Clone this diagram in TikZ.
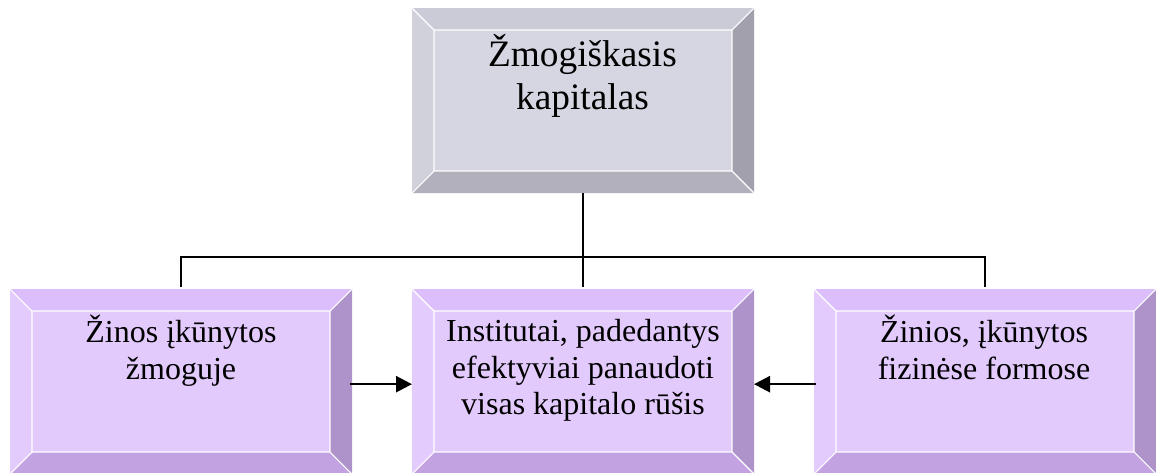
\documentclass[tikz,border=0pt]{standalone}
\usepackage{fontspec}
\setmainfont{Liberation Serif}
\usetikzlibrary{arrows.meta}
\definecolor{gTop}{HTML}{CBCBD7}
\definecolor{gLeft}{HTML}{D1D1DC}
\definecolor{gRight}{HTML}{A1A0AC}
\definecolor{gBot}{HTML}{B1B0BC}
\definecolor{gMid}{HTML}{D6D6E2}
\definecolor{pTop}{HTML}{DCBEFC}
\definecolor{pLeft}{HTML}{E3CCFD}
\definecolor{pRight}{HTML}{AD93CA}
\definecolor{pBot}{HTML}{C3A2E2}
\definecolor{pMid}{HTML}{E2CAFD}
\newcommand\bevelbox[6]{%
  \path (#1.north west) ++(22,22) coordinate (#1-inw);
  \path (#1.north east) ++(-22,22) coordinate (#1-ine);
  \path (#1.south east) ++(-22,-22) coordinate (#1-ise);
  \path (#1.south west) ++(22,-22) coordinate (#1-isw);
  \fill[#2] (#1.north west) -- (#1.north east) -- (#1-ine) -- (#1-inw) -- cycle;
  \fill[#3] (#1.north west) -- (#1-inw) -- (#1-isw) -- (#1.south west) -- cycle;
  \fill[#4] (#1.north east) -- (#1.south east) -- (#1-ise) -- (#1-ine) -- cycle;
  \fill[#5] (#1.south west) -- (#1-isw) -- (#1-ise) -- (#1.south east) -- cycle;
  \fill[#6] (#1-inw) rectangle (#1-ise);
  \draw[facetline] (#1-inw) rectangle (#1-ise)
    (#1.north west) -- (#1-inw) (#1.north east) -- (#1-ine)
    (#1.south east) -- (#1-ise) (#1.south west) -- (#1-isw);
}
\begin{document}
\begin{tikzpicture}[x=0.75pt,y=-0.75pt,
  boxnode/.style={minimum width=256.5pt,minimum height=138.75pt,inner sep=0pt,outer sep=0pt,draw=none},
  facetline/.style={white,line width=0.8pt},
  toptext/.style={align=center,inner sep=0pt,font=\fontsize{28}{32.25}\selectfont},
  subtext/.style={align=center,inner sep=0pt,font=\fontsize{24}{27.5}\selectfont},
  link/.style={line width=1.4pt},
  arrowlink/.style={line width=1.9pt,-{Triangle[length=12pt,width=12pt]}}]
\useasboundingbox (0,0) rectangle (1156,472);
\node[boxnode] (top) at (583,100.5) {};
\node[boxnode] (left) at (181,381.5) {};
\node[boxnode] (mid) at (583,381.5) {};
\node[boxnode] (right) at (985,381.5) {};
\bevelbox{top}{gTop}{gLeft}{gRight}{gBot}{gMid}
\bevelbox{left}{pTop}{pLeft}{pRight}{pBot}{pMid}
\bevelbox{mid}{pTop}{pLeft}{pRight}{pBot}{pMid}
\bevelbox{right}{pTop}{pLeft}{pRight}{pBot}{pMid}
\node[toptext,anchor=north] (toplbl) at (582.5,34) {Žmogiškasis\\kapitalas};
\node[subtext,anchor=north] (leftlbl) at (181,315) {Žinos įkūnytos\\žmoguje};
\node[subtext,anchor=north] (midlbl) at (583,319) {Institutai, padedantys\\efektyviai panaudoti\\visas kapitalo rūšis};
\node[subtext,anchor=north] (rightlbl) at (984,315) {Žinios, įkūnytos\\fizinėse formose};
\coordinate (bus) at (583,257);
\draw[link] (top.south) -- ([yshift=1.5pt]mid.north);
\draw[link] ([yshift=1.5pt]left.north) |- (bus) -| ([yshift=1.5pt]right.north);
\draw[arrowlink] ([xshift=-1.5pt,yshift=-2pt]left.east) -- ([yshift=-2pt]mid.west);
\draw[arrowlink] ([xshift=1.5pt,yshift=-2pt]right.west) -- ([yshift=-2pt]mid.east);
\end{tikzpicture}
\end{document}
